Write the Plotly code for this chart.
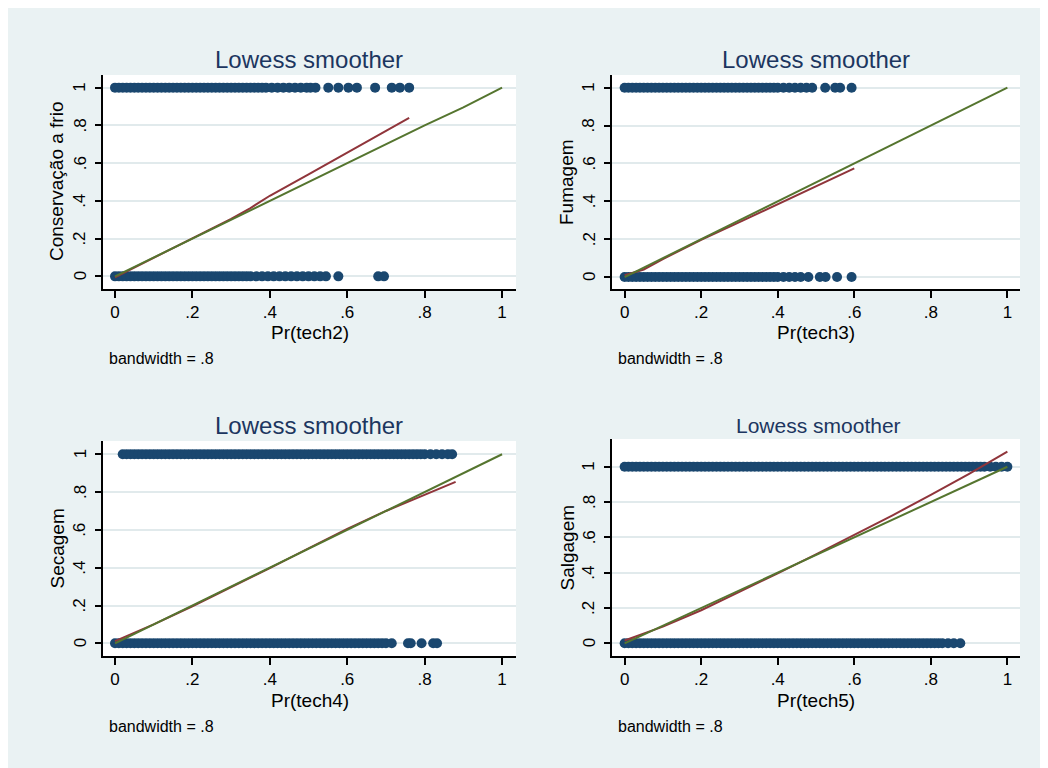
import plotly.graph_objects as go

# page body has an 8px margin, so the figure is 8px smaller and shifted by 8px
OFF = 8
W, H = 1048 - OFF, 768 - OFF

# ---------------- data ----------------
# Panel 1: Conservação a frio vs Pr(tech2)
tech2_x_at1 = [0.00, 0.01, 0.02, 0.03, 0.04, 0.05, 0.06, 0.07, 0.08, 0.09, 0.10, 0.11, 0.12, 0.13,
               0.14, 0.15, 0.16, 0.17, 0.18, 0.19, 0.20, 0.21, 0.22, 0.23, 0.24, 0.25, 0.26, 0.27,
               0.28, 0.29, 0.30, 0.31, 0.32, 0.33, 0.34, 0.35, 0.36, 0.37, 0.38, 0.39, 0.405, 0.42,
               0.435, 0.45, 0.465, 0.48, 0.495, 0.505, 0.518, 0.551, 0.577, 0.603, 0.625, 0.672,
               0.715, 0.736, 0.760]
tech2_x_at0 = [0.00, 0.01, 0.02, 0.03, 0.04, 0.05, 0.06, 0.07, 0.08, 0.09, 0.10, 0.11, 0.12, 0.13,
               0.14, 0.15, 0.16, 0.17, 0.18, 0.19, 0.20, 0.21, 0.22, 0.23, 0.24, 0.25, 0.26, 0.27,
               0.28, 0.29, 0.30, 0.31, 0.32, 0.33, 0.34, 0.35, 0.365, 0.38, 0.395, 0.41, 0.425,
               0.44, 0.455, 0.47, 0.485, 0.50, 0.515, 0.53, 0.545, 0.577, 0.680, 0.695]
tech2_red_x = [0.00, 0.10, 0.20, 0.30, 0.35, 0.40, 0.50, 0.60, 0.70, 0.76]
tech2_red_y = [-0.005, 0.098, 0.198, 0.305, 0.362, 0.427, 0.541, 0.656, 0.770, 0.840]
tech2_grn_x = [0.00, 0.10, 0.20, 0.30, 0.40, 0.50, 0.60, 0.70, 0.80, 0.90, 1.00]
tech2_grn_y = [0.00, 0.10, 0.20, 0.30, 0.40, 0.50, 0.60, 0.70, 0.80, 0.895, 1.00]

# Panel 2: Fumagem vs Pr(tech3)
tech3_x_at1 = [0.00, 0.01, 0.02, 0.03, 0.04, 0.05, 0.06, 0.07, 0.08, 0.09, 0.10, 0.11, 0.12, 0.13,
               0.14, 0.15, 0.16, 0.17, 0.18, 0.19, 0.20, 0.21, 0.22, 0.23, 0.24, 0.25, 0.26, 0.27,
               0.28, 0.29, 0.30, 0.31, 0.32, 0.33, 0.34, 0.35, 0.36, 0.37, 0.38, 0.39, 0.40, 0.415,
               0.43, 0.445, 0.46, 0.475, 0.49, 0.524, 0.550, 0.563, 0.593]
tech3_x_at0 = [0.00, 0.01, 0.02, 0.03, 0.04, 0.05, 0.06, 0.07, 0.08, 0.09, 0.10, 0.11, 0.12, 0.13,
               0.14, 0.15, 0.16, 0.17, 0.18, 0.19, 0.20, 0.21, 0.22, 0.23, 0.24, 0.25, 0.26, 0.27,
               0.28, 0.29, 0.30, 0.31, 0.32, 0.33, 0.34, 0.35, 0.36, 0.37, 0.38, 0.39, 0.40, 0.415,
               0.43, 0.445, 0.46, 0.48, 0.510, 0.525, 0.555, 0.593]
tech3_red_x = [0.00, 0.05, 0.10, 0.20, 0.30, 0.40, 0.50, 0.60]
tech3_red_y = [0.010, 0.040, 0.095, 0.197, 0.290, 0.384, 0.478, 0.574]
tech3_grn_x = [0.00, 0.10, 0.20, 0.30, 0.40, 0.50, 0.60, 0.70, 0.80, 0.90, 1.00]
tech3_grn_y = [0.00, 0.10, 0.20, 0.30, 0.40, 0.50, 0.60, 0.70, 0.80, 0.90, 1.00]

# Panel 3: Secagem vs Pr(tech4)
tech4_x_at1 = [0.02, 0.03, 0.04, 0.05, 0.06, 0.07, 0.08, 0.09, 0.10, 0.11, 0.12, 0.13, 0.14, 0.15,
               0.16, 0.17, 0.18, 0.19, 0.20, 0.21, 0.22, 0.23, 0.24, 0.25, 0.26, 0.27, 0.28, 0.29,
               0.30, 0.31, 0.32, 0.33, 0.34, 0.35, 0.36, 0.37, 0.38, 0.39, 0.40, 0.41, 0.42, 0.43,
               0.44, 0.45, 0.46, 0.47, 0.48, 0.49, 0.50, 0.51, 0.52, 0.53, 0.54, 0.55, 0.56, 0.57,
               0.58, 0.59, 0.60, 0.61, 0.62, 0.63, 0.64, 0.65, 0.66, 0.67, 0.68, 0.69, 0.70, 0.71,
               0.72, 0.73, 0.74, 0.75, 0.76, 0.77, 0.78, 0.79, 0.80, 0.815, 0.83, 0.845, 0.86, 0.871]
tech4_x_at0 = [0.00, 0.01, 0.02, 0.03, 0.04, 0.05, 0.06, 0.07, 0.08, 0.09, 0.10, 0.11, 0.12, 0.13,
               0.14, 0.15, 0.16, 0.17, 0.18, 0.19, 0.20, 0.21, 0.22, 0.23, 0.24, 0.25, 0.26, 0.27,
               0.28, 0.29, 0.30, 0.31, 0.32, 0.33, 0.34, 0.35, 0.36, 0.37, 0.38, 0.39, 0.40, 0.41,
               0.42, 0.43, 0.44, 0.45, 0.46, 0.47, 0.48, 0.49, 0.50, 0.51, 0.52, 0.53, 0.54, 0.55,
               0.56, 0.57, 0.58, 0.59, 0.60, 0.61, 0.62, 0.63, 0.64, 0.65, 0.66, 0.67, 0.68, 0.69,
               0.70, 0.715, 0.757, 0.764, 0.792, 0.822, 0.832]
tech4_red_x = [0.00, 0.10, 0.20, 0.30, 0.40, 0.50, 0.60, 0.70, 0.80, 0.88]
tech4_red_y = [0.012, 0.100, 0.196, 0.295, 0.398, 0.502, 0.605, 0.700, 0.787, 0.854]
tech4_grn_x = [0.00, 0.10, 0.20, 0.30, 0.40, 0.50, 0.60, 0.70, 0.80, 0.90, 1.00]
tech4_grn_y = [0.00, 0.10, 0.20, 0.30, 0.40, 0.50, 0.60, 0.70, 0.80, 0.90, 1.00]

# Panel 4: Salgagem vs Pr(tech5)
tech5_x_at1 = [0.00, 0.01, 0.02, 0.03, 0.04, 0.05, 0.06, 0.07, 0.08, 0.09, 0.10, 0.11, 0.12, 0.13,
               0.14, 0.15, 0.16, 0.17, 0.18, 0.19, 0.20, 0.21, 0.22, 0.23, 0.24, 0.25, 0.26, 0.27,
               0.28, 0.29, 0.30, 0.31, 0.32, 0.33, 0.34, 0.35, 0.36, 0.37, 0.38, 0.39, 0.40, 0.41,
               0.42, 0.43, 0.44, 0.45, 0.46, 0.47, 0.48, 0.49, 0.50, 0.51, 0.52, 0.53, 0.54, 0.55,
               0.56, 0.57, 0.58, 0.59, 0.60, 0.61, 0.62, 0.63, 0.64, 0.65, 0.66, 0.67, 0.68, 0.69,
               0.70, 0.71, 0.72, 0.73, 0.74, 0.75, 0.76, 0.77, 0.78, 0.79, 0.80, 0.81, 0.82, 0.83,
               0.84, 0.85, 0.86, 0.87, 0.88, 0.89, 0.90, 0.91, 0.92, 0.93, 0.94, 0.955, 0.97, 0.985,
               1.00]
tech5_x_at0 = [0.00, 0.01, 0.02, 0.03, 0.04, 0.05, 0.06, 0.07, 0.08, 0.09, 0.10, 0.11, 0.12, 0.13,
               0.14, 0.15, 0.16, 0.17, 0.18, 0.19, 0.20, 0.21, 0.22, 0.23, 0.24, 0.25, 0.26, 0.27,
               0.28, 0.29, 0.30, 0.31, 0.32, 0.33, 0.34, 0.35, 0.36, 0.37, 0.38, 0.39, 0.40, 0.41,
               0.42, 0.43, 0.44, 0.45, 0.46, 0.47, 0.48, 0.49, 0.50, 0.51, 0.52, 0.53, 0.54, 0.55,
               0.56, 0.57, 0.58, 0.59, 0.60, 0.61, 0.62, 0.63, 0.64, 0.65, 0.66, 0.67, 0.68, 0.69,
               0.70, 0.71, 0.72, 0.73, 0.74, 0.75, 0.76, 0.77, 0.78, 0.79, 0.80, 0.81, 0.82, 0.83,
               0.845, 0.86, 0.877]
tech5_red_x = [0.00, 0.10, 0.20, 0.30, 0.40, 0.50, 0.60, 0.70, 0.80, 0.90, 1.00]
tech5_red_y = [0.016, 0.094, 0.187, 0.290, 0.396, 0.503, 0.613, 0.725, 0.840, 0.960, 1.085]
tech5_grn_x = [0.00, 0.10, 0.20, 0.30, 0.40, 0.50, 0.60, 0.70, 0.80, 0.90, 1.00]
tech5_grn_y = [0.00, 0.10, 0.20, 0.30, 0.40, 0.50, 0.60, 0.70, 0.80, 0.896, 1.00]

tick_vals = [0, 0.2, 0.4, 0.6, 0.8, 1]
tick_text = ["0", ".2", ".4", ".6", ".8", "1"]

panel_titles = ["Lowess smoother", "Lowess smoother", "Lowess smoother", "Lowess smoother"]
x_titles = ["Pr(tech2)", "Pr(tech3)", "Pr(tech4)", "Pr(tech5)"]
y_titles = ["Conservação a frio", "Fumagem", "Secagem", "Salgagem"]
note_text = "bandwidth = .8"

# ---------------- styling ----------------
FONT = "Liberation Sans, Arial, sans-serif"
NAVY = "#1A476F"
MAROON = "#90353B"
GREEN = "#55752F"
BG = "#EAF2F3"
GRID = "#E1EAEC"
TITLE_C = "#1C3660"

def px(x):
    # x given in screen pixels
    return (x - OFF) / W

def py(y):
    return 1 - (y - OFF) / H

# plot area boxes in screen pixels: (left, right, top, bottom)
boxes = [(103, 516, 75, 289), (612, 1020, 75, 289), (103, 516, 441, 656), (612, 1020, 439, 656)]
xranges = [[-0.031, 1.036], [-0.033, 1.033], [-0.031, 1.036], [-0.033, 1.033]]
yranges = [[-0.067, 1.067], [-0.063, 1.067], [-0.067, 1.070], [-0.072, 1.157]]
title_pos = [(309, 59, 24), (816, 59, 24), (309, 425, 24), (818, 425, 21)]
xtitle_y = [332, 332, 700, 700]
ytitle_x = [57, 567, 57, 567]
note_pos = [(107, 359), (616, 359), (107, 726), (616, 726)]

panels = [
    (tech2_x_at1, tech2_x_at0, tech2_red_x, tech2_red_y, tech2_grn_x, tech2_grn_y),
    (tech3_x_at1, tech3_x_at0, tech3_red_x, tech3_red_y, tech3_grn_x, tech3_grn_y),
    (tech4_x_at1, tech4_x_at0, tech4_red_x, tech4_red_y, tech4_grn_x, tech4_grn_y),
    (tech5_x_at1, tech5_x_at0, tech5_red_x, tech5_red_y, tech5_grn_x, tech5_grn_y),
]

fig = go.Figure()
annotations = []
layout_axes = {}

for i, (x1s, x0s, rx, ry, gx, gy) in enumerate(panels):
    n = i + 1
    xa = "x" if n == 1 else f"x{n}"
    ya = "y" if n == 1 else f"y{n}"
    mk = dict(color=NAVY, size=10, line=dict(width=0))
    fig.add_trace(go.Scatter(x=x1s, y=[1] * len(x1s), mode="markers", marker=mk,
                             xaxis=xa, yaxis=ya, showlegend=False, hoverinfo="skip"))
    fig.add_trace(go.Scatter(x=x0s, y=[0] * len(x0s), mode="markers", marker=mk,
                             xaxis=xa, yaxis=ya, showlegend=False, hoverinfo="skip"))
    fig.add_trace(go.Scatter(x=rx, y=ry, mode="lines", line=dict(color=MAROON, width=2),
                             xaxis=xa, yaxis=ya, showlegend=False, hoverinfo="skip"))
    fig.add_trace(go.Scatter(x=gx, y=gy, mode="lines", line=dict(color=GREEN, width=2),
                             xaxis=xa, yaxis=ya, showlegend=False, hoverinfo="skip"))

    l, r, t, b = boxes[i]
    xkey = "xaxis" if n == 1 else f"xaxis{n}"
    ykey = "yaxis" if n == 1 else f"yaxis{n}"
    layout_axes[xkey] = dict(
        domain=[px(l), px(r)], range=xranges[i], anchor=ya,
        tickvals=tick_vals, ticktext=tick_text, ticks="outside", ticklen=7, tickwidth=1.5,
        tickcolor="#000000", showline=True, linecolor="#000000", linewidth=1.5,
        showgrid=False, zeroline=False, tickfont=dict(family=FONT, size=17, color="#000000"),
        fixedrange=True,
    )
    layout_axes[ykey] = dict(
        domain=[py(b), py(t)], range=yranges[i], anchor=xa,
        tickvals=tick_vals, ticktext=tick_text, ticks="outside", ticklen=6, tickwidth=1.5,
        tickcolor="#000000", showline=True, linecolor="#000000", linewidth=1.5,
        showgrid=True, gridcolor=GRID, gridwidth=1.5, zeroline=False,
        showticklabels=False, fixedrange=True,
    )

    # vertical (rotated) y tick labels, placed on the y axis scale
    for v, s in zip(tick_vals, tick_text):
        annotations.append(dict(text=s, x=px(l - 23), y=v, xref="paper", yref=ya,
                                showarrow=False, xanchor="center", yanchor="middle",
                                textangle=-90,
                                font=dict(family=FONT, size=17, color="#000000")))

    tx, ty, ts = title_pos[i]
    annotations.append(dict(text=panel_titles[i], x=px(tx), y=py(ty), xref="paper", yref="paper",
                            showarrow=False, xanchor="center", yanchor="middle",
                            font=dict(family=FONT, size=ts, color=TITLE_C)))
    annotations.append(dict(text=x_titles[i], x=px((l + r) / 2), y=py(xtitle_y[i]), xref="paper",
                            yref="paper", showarrow=False, xanchor="center", yanchor="middle",
                            font=dict(family=FONT, size=19, color="#000000")))
    annotations.append(dict(text=y_titles[i], x=px(ytitle_x[i]), y=py((t + b) / 2), xref="paper",
                            yref="paper", showarrow=False, xanchor="center", yanchor="middle",
                            textangle=-90, font=dict(family=FONT, size=19, color="#000000")))
    nx, ny = note_pos[i]
    annotations.append(dict(text=note_text, x=px(nx), y=py(ny), xref="paper", yref="paper",
                            showarrow=False, xanchor="left", yanchor="middle",
                            font=dict(family=FONT, size=16, color="#000000")))

fig.update_layout(
    width=W, height=H, margin=dict(l=0, r=0, t=0, b=0),
    paper_bgcolor=BG, plot_bgcolor="#FFFFFF",
    font=dict(family=FONT), showlegend=False,
    annotations=annotations,
    **layout_axes,
)

fig.write_html("out.html", config={"displayModeBar": False})
